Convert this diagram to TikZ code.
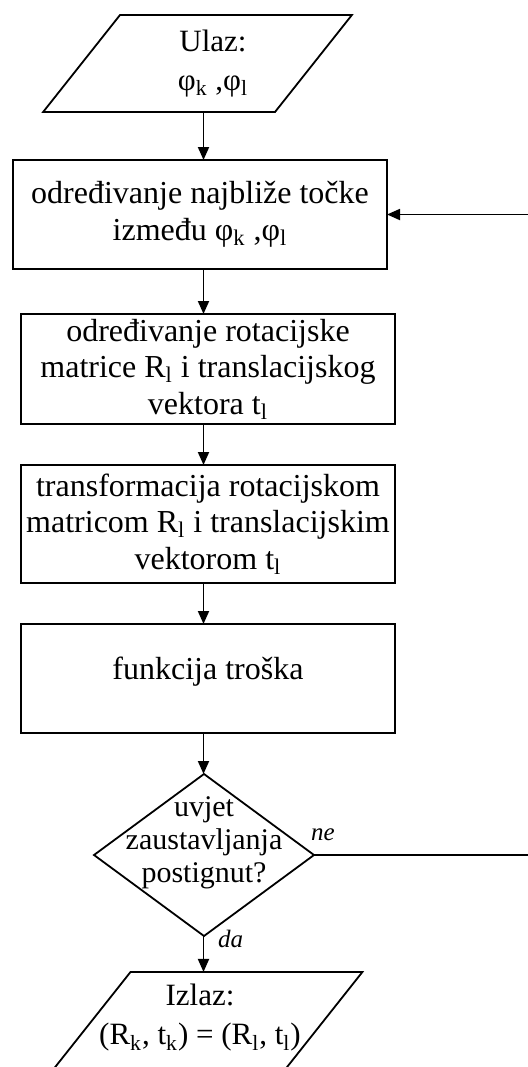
\documentclass[tikz,border=0pt]{standalone}
\usepackage{fontspec}
\setmainfont{Liberation Serif}
\usetikzlibrary{shapes.geometric, arrows.meta}

\begin{document}
\begin{tikzpicture}[x=0.5pt, y=-0.5pt, align=center, >={Triangle[length=6.5pt, width=5.5pt]},
		every node/.style={outer sep=0pt, inner sep=0pt},
		stepbox/.style={draw, line width=0.9pt, minimum width=187pt, font=\fontsize{16}{18.25}\selectfont},
		iobox/.style={draw, line width=0.9pt, trapezium, trapezium left angle=51.6, trapezium right angle=128.4,
			text width=77.5pt, text height=48.5pt, text depth=0pt},
		ifbox/.style={draw, line width=0.9pt, diamond, minimum width=110pt, minimum height=81pt},
		iotext/.style={font=\fontsize{15.5}{19.5}\selectfont},
		iftext/.style={font=\fontsize{15}{16.5}\selectfont},
		yesno/.style={font=\fontsize{12.5}{14}\selectfont\itshape}
	]
		\useasboundingbox (0,0) rectangle (527,1067);
		\coordinate (axis) at (203.5,0);
		\coordinate (back) at (545,0);
		
		\node[iobox, label={[iotext, xshift=7.75pt]center:{Ulaz:\\φ\textsubscript{k} ,φ\textsubscript{l}}}] (in) at (197.5,63.5) {};
		\node[stepbox, minimum height=54.5pt] (b1) at (200,214.5) {određivanje najbliže točke\\između φ\textsubscript{k} ,φ\textsubscript{l}};
		\node[stepbox, minimum height=55pt] (b2) at (208,369) {određivanje rotacijske\\matrice R\textsubscript{l} i translacijskog\\vektora t\textsubscript{l}};
		\node[stepbox, minimum height=59pt] (b3) at (208,524) {transformacija rotacijskom\\matricom R\textsubscript{l} i translacijskim\\vektorom t\textsubscript{l}};
		\node[stepbox, minimum height=54.5pt, text depth=10pt] (b4) at (208,678.5) {funkcija troška};
		\node[ifbox, label={[iftext, yshift=6pt]center:{uvjet\\zaustavljanja\\postignut?}}] (dec) at (204,855) {};
		\node[iobox, label={[iotext, xshift=-4pt, yshift=1.25pt]center:{Izlaz:\\(R\textsubscript{k}, t\textsubscript{k}) = (R\textsubscript{l}, t\textsubscript{l})}}] (out) at (208,1020.5) {};
		
		\node[yesno, anchor=base west] (ne) at ([shift={(-3,-15)}]dec.east) {ne};
		\node[yesno, anchor=base west] (da) at ([shift={(14,11)}]dec.south) {da};
		
		\draw[->, line width=0.9pt] (axis |- in.south) -- (axis |- b1.north);
		\draw[->, line width=0.9pt] (axis |- b1.south) -- (axis |- b2.north);
		\draw[->, line width=0.9pt] (axis |- b2.south) -- (axis |- b3.north);
		\draw[->, line width=0.9pt] (axis |- b3.south) -- (axis |- b4.north);
		\draw[->, line width=0.9pt] (axis |- b4.south) -- (axis |- dec.north);
		\draw[->, line width=0.9pt] (axis |- dec.south) -- (axis |- out.north);
		\draw[->, line width=0.9pt] (dec.east) -- (back |- dec.east) -- (back |- b1.east) -- (b1.east);
	\end{tikzpicture}
\end{document}
